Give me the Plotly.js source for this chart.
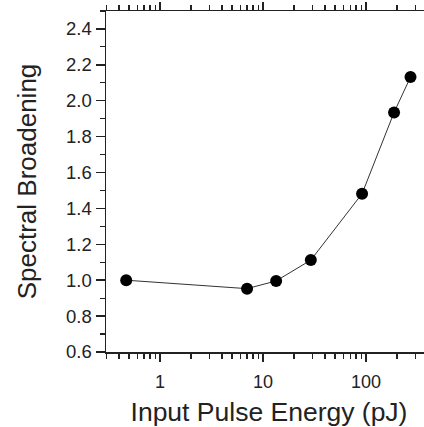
<!DOCTYPE html>
<html>
<head>
<meta charset="utf-8">
<script src="https://cdn.plot.ly/plotly-3.0.1.min.js"></script>
<style>
html, body { margin: 0; padding: 0; overflow: hidden; background: #fff; }
#chart { width: 432px; height: 427px; }
</style>
</head>
<body>
<div id="chart"></div>
<script>
const energy_pJ = [0.47, 7.0, 13.4, 29.1, 91.5, 187, 270];
const broadening = [1.00, 0.953, 0.996, 1.112, 1.482, 1.935, 2.132];
const xTickVals = [1, 10, 100];
const xTickText = ['1', '10', '100'];

const font = 'Liberation Sans, Arial, sans-serif';
const axisColor = '#222';

Plotly.newPlot('chart', [{
  x: energy_pJ,
  y: broadening,
  type: 'scatter',
  mode: 'lines+markers',
  line: { color: '#333', width: 1 },
  marker: { color: '#000', size: 12 },
  showlegend: false
}], {
  width: 432,
  height: 427,
  margin: { l: 106, r: 0, t: 11, b: 75 },
  paper_bgcolor: '#fff',
  plot_bgcolor: '#fff',
  font: { family: font, color: '#222' },
  xaxis: {
    type: 'log',
    range: [-0.524, 2.64],
    tickvals: xTickVals,
    ticktext: xTickText,
    ticks: 'outside',
    ticklen: 8,
    tickwidth: 1.5,
    tickcolor: axisColor,
    showline: true,
    linecolor: axisColor,
    linewidth: 1.5,
    mirror: 'allticks',
    showgrid: false,
    zeroline: false,
    ticklabelstandoff: 5,
    tickfont: { size: 18, family: font, color: '#222' },
    minor: { dtick: 'D1', ticks: 'outside', ticklen: 5, tickwidth: 1.2, tickcolor: axisColor, showgrid: false },
    title: { text: 'Input Pulse Energy (pJ)', font: { size: 26.5, family: font, color: '#222' }, standoff: 12 }
  },
  yaxis: {
    range: [0.6, 2.5],
    tick0: 0.6,
    dtick: 0.2,
    tickformat: '.1f',
    ticks: 'outside',
    ticklen: 9,
    tickwidth: 1.5,
    tickcolor: axisColor,
    showline: true,
    linecolor: axisColor,
    linewidth: 1.5,
    showgrid: false,
    zeroline: false,
    ticklabelstandoff: 0,
    tickfont: { size: 18.5, family: font, color: '#222' },
    minor: { dtick: 0.1, ticks: 'outside', ticklen: 5, tickwidth: 1.2, tickcolor: axisColor, showgrid: false },
    title: { text: 'Spectral Broadening', font: { size: 26, family: font, color: '#222' }, standoff: 22 }
  }
}, { displayModeBar: false, staticPlot: true });
</script>
</body>
</html>
